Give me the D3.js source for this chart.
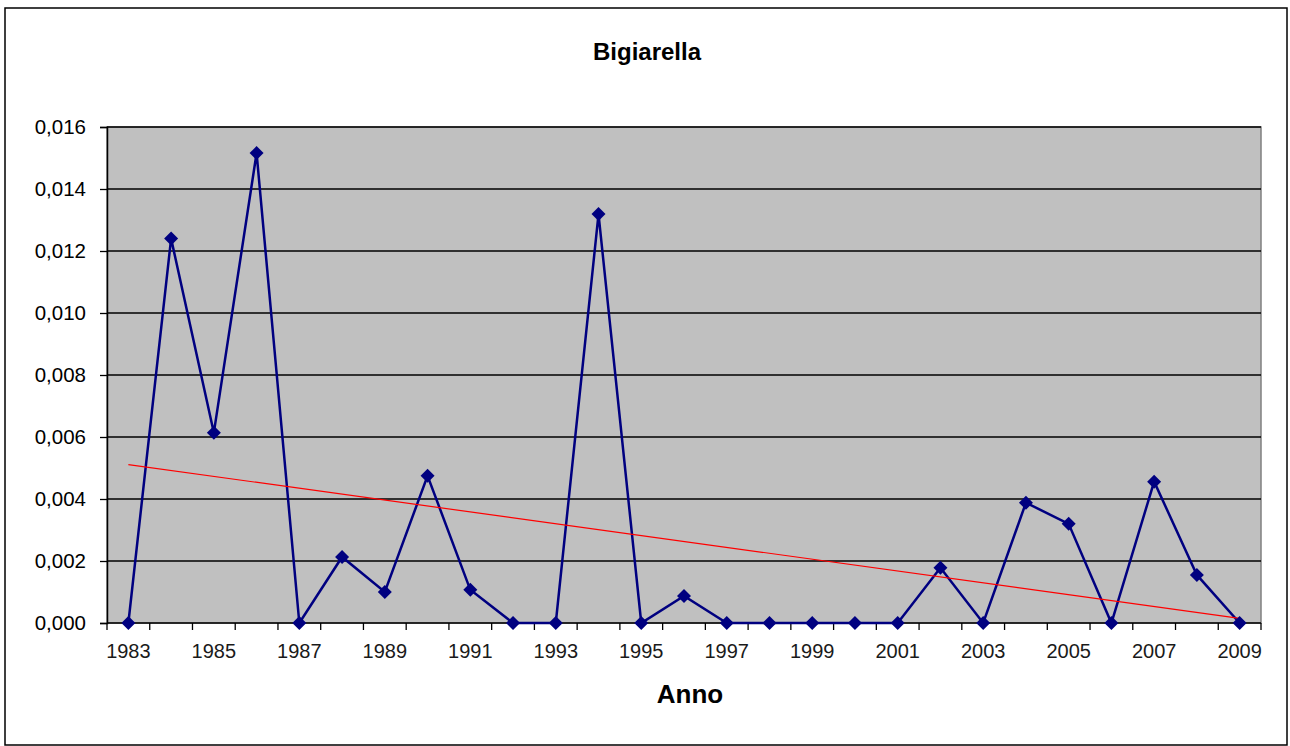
<!DOCTYPE html>
<html>
<head>
<meta charset="utf-8">
<script src="https://cdn.jsdelivr.net/npm/d3@7"></script>
<style>
  body { margin: 0; background: #fff; }
  text { font-family: "Liberation Sans", Arial, sans-serif; fill: #000; }
</style>
</head>
<body>
<script>
// dati
const anni = d3.range(1983, 2010);
const valori = [0, 0.0124, 0.00614, 0.01516, 0, 0.00213, 0.0010, 0.00475, 0.00107, 0, 0,
  0.01319, 0, 0.00087, 0, 0, 0, 0, 0, 0.00178, 0, 0.00388, 0.0032, 0, 0.00456, 0.00155, 0];
const trendAnni = [1983, 2009];
const trendValori = [0.00511, 0.00015];
const yTicks = [0, 0.002, 0.004, 0.006, 0.008, 0.010, 0.012, 0.014, 0.016];
const xLabelAnni = anni.filter(a => (a - 1983) % 2 === 0);

const W = 1290, H = 746;
const margin = { top: 127, right: 29, bottom: 123, left: 107 };
const width = W - margin.left - margin.right,
      height = H - margin.top - margin.bottom;

const svg = d3.select("body").append("svg")
  .attr("width", W).attr("height", H);

// bordo esterno
svg.append("rect")
  .attr("x", 5).attr("y", 8).attr("width", 1282).attr("height", 737)
  .attr("fill", "#fff").attr("stroke", "#000").attr("stroke-width", 1.5);

svg.append("text").text("Bigiarella")
  .attr("x", 647).attr("y", 60).attr("text-anchor", "middle")
  .style("font-size", "24px").style("font-weight", "bold");

const g = svg.append("g").attr("transform", `translate(${margin.left},${margin.top})`);

const x = d3.scaleBand().domain(anni).range([0, width]);
const y = d3.scaleLinear().domain([0, 0.016]).range([height, 0]);
const cx = a => x(a) + x.bandwidth() / 2;

// area del grafico
g.append("rect").attr("width", width).attr("height", height)
  .attr("fill", "#C0C0C0").attr("stroke", "#808080").attr("stroke-width", 1.5);

// griglia
g.selectAll(".grid").data(yTicks.slice(1)).enter().append("line")
  .attr("x1", 0).attr("x2", width)
  .attr("y1", d => y(d)).attr("y2", d => y(d))
  .attr("stroke", "#000").attr("stroke-width", 1.3);

// asse y
const fmt = d => d3.format(".3f")(d).replace(".", ",");
const yAxis = g.append("g")
  .call(d3.axisLeft(y).tickValues(yTicks).tickFormat(fmt).tickSize(7).tickPadding(14));
yAxis.select(".domain").attr("stroke", "#000").attr("stroke-width", 1.5);
yAxis.selectAll(".tick line").attr("stroke-width", 1.3);
yAxis.selectAll("text").style("font-size", "20.5px").attr("fill", "#1a1a1a")
  .style("font-family", "Liberation Sans, Arial, sans-serif");

// asse x (tacche ai bordi delle categorie)
const xAxis = g.append("g").attr("transform", `translate(0,${height})`);
xAxis.append("line").attr("x1", 0).attr("x2", width)
  .attr("stroke", "#000").attr("stroke-width", 1.5);
const bordi = anni.map(a => x(a)).concat([width]);
xAxis.selectAll(".tick").data(bordi).enter().append("line")
  .attr("x1", d => d).attr("x2", d => d).attr("y1", 0).attr("y2", 7)
  .attr("stroke", "#000").attr("stroke-width", 1.3);
xAxis.selectAll(".lab").data(xLabelAnni).enter().append("text")
  .attr("x", d => cx(d)).attr("y", 35).attr("text-anchor", "middle")
  .style("font-size", "20px").style("fill", "#1a1a1a").text(d => d);

svg.append("text").text("Anno")
  .attr("x", 690).attr("y", 703).attr("text-anchor", "middle")
  .style("font-size", "26px").style("font-weight", "bold");

// serie
const dati = anni.map((a, i) => ({ a, v: valori[i] }));
g.append("path").datum(dati)
  .attr("fill", "none").attr("stroke", "#000080").attr("stroke-width", 2.5)
  .attr("d", d3.line().x(d => cx(d.a)).y(d => y(d.v)));

// linea di tendenza
g.append("path").datum(trendAnni.map((a, i) => ({ a, v: trendValori[i] })))
  .attr("fill", "none").attr("stroke", "#FF0000").attr("stroke-width", 1.2)
  .attr("d", d3.line().x(d => cx(d.a)).y(d => y(d.v)));

// marcatori a rombo
g.selectAll(".m").data(dati).enter().append("path")
  .attr("transform", d => `translate(${cx(d.a)},${y(d.v)})`)
  .attr("d", "M0,-7L7,0L0,7L-7,0Z")
  .attr("fill", "#000080");
</script>
</body>
</html>
